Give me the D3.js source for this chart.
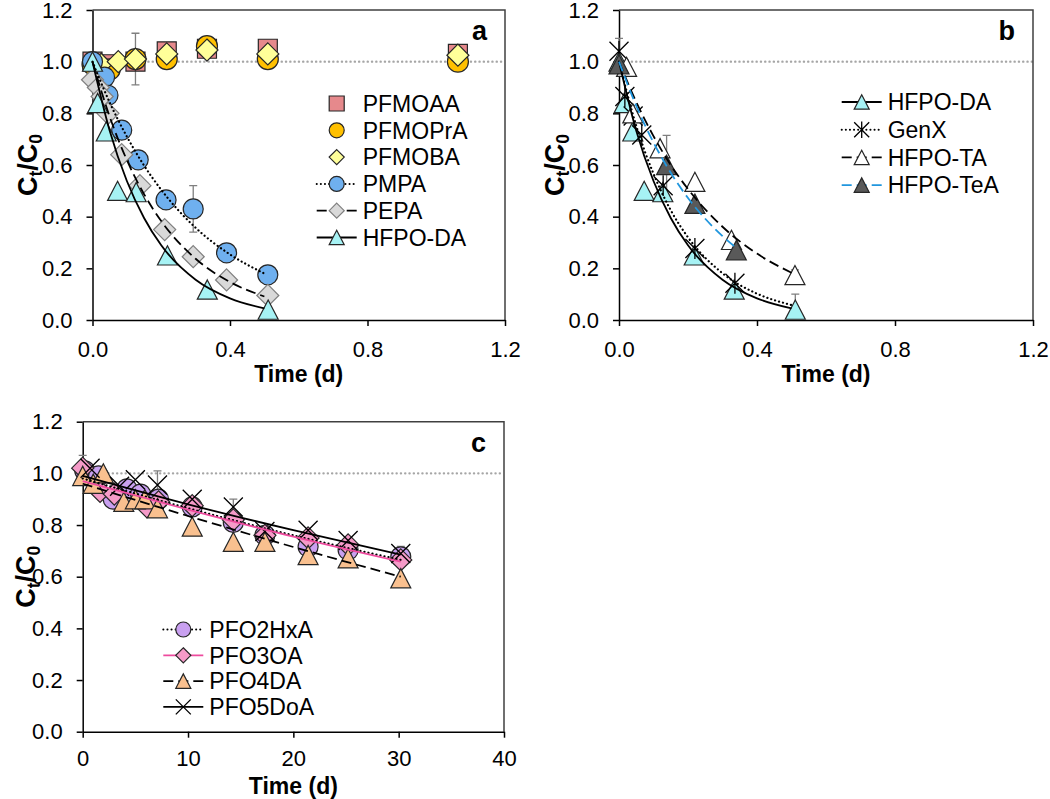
<!DOCTYPE html>
<html><head><meta charset="utf-8">
<script src="https://cdn.jsdelivr.net/npm/d3@7"></script>
<style>
body{margin:0;background:#fff}
svg{display:block}
text{font-family:"Liberation Sans",Arial,Helvetica,sans-serif;fill:#000}
</style>
</head><body>
<svg id="chart" width="1050" height="799"></svg>
<script>
// ---------------- DATA ----------------
// tick labels
const yTicks = [0, 0.2, 0.4, 0.6, 0.8, 1.0, 1.2];
const xTicksAB = [0, 0.4, 0.8, 1.2];
const xTicksC = [0, 10, 20, 30, 40];

// Panel a : [time (d), Ct/C0]
const a_PFMOAA  = [[0,1.0],[0.05,0.99],[0.125,1.0],[0.216,1.04],[0.333,1.05],[0.51,1.05],[1.063,1.03]];
const a_PFMOPrA = [[0,0.99],[0.05,0.97],[0.125,1.01],[0.216,1.01],[0.333,1.06],[0.51,1.01],[1.063,1.0]];
const a_PFMOBA  = [[0.025,0.99],[0.075,1.0],[0.125,1.01],[0.216,1.03],[0.333,1.045],[0.51,1.03],[1.063,1.025]];
const a_PMPA    = [[0,1.0],[0.035,0.94],[0.045,0.87],[0.085,0.735],[0.133,0.62],[0.214,0.465],[0.293,0.43],[0.39,0.26],[0.51,0.175]];
const a_PEPA    = [[0,0.93],[0.017,0.9],[0.028,0.865],[0.045,0.8],[0.085,0.64],[0.138,0.52],[0.21,0.35],[0.293,0.245],[0.39,0.155],[0.51,0.095]];
const HFPODA    = [[0,1.0],[0.015,0.84],[0.04,0.73],[0.073,0.5],[0.127,0.495],[0.218,0.25],[0.334,0.118],[0.511,0.04]];
// error bars : [time, value, +err, -err]
const a_errPFMOBA = [[0.125,1.01,0.1,0.1]];
const a_errPMPA   = [[0.293,0.43,0.09,0.09]];
// fitted curves panel a
const fitA_PMPA   = [[0,1],[0.05,0.842],[0.1,0.71],[0.15,0.598],[0.2,0.504],[0.3,0.357],[0.4,0.254],[0.5,0.18]];
const fitA_PEPA   = [[0,1],[0.05,0.787],[0.1,0.619],[0.15,0.487],[0.2,0.383],[0.3,0.237],[0.4,0.147],[0.5,0.091]];
const fitHFPODA   = [[0,1],[0.05,0.733],[0.1,0.538],[0.15,0.395],[0.2,0.289],[0.3,0.156],[0.4,0.084],[0.5,0.045]];

// Panel b
const b_GenX    = [[0,1.04],[0.017,0.865],[0.041,0.79],[0.066,0.716],[0.128,0.52],[0.22,0.277],[0.336,0.142]];
const b_HFPOTA  = [[0.022,0.98],[0.04,0.8],[0.119,0.665],[0.22,0.535],[0.326,0.31],[0.51,0.174]];
const b_HFPOTeA = [[0,0.99],[0.138,0.6],[0.22,0.45],[0.34,0.27]];
const b_errHFPODA  = [[0,1.0,0.09,0.02],[0.511,0.04,0.06,0.02]];
const b_errHFPOTeA = [[0.138,0.59,0.125,0.125]];
const b_errHFPOTA  = [[0.51,0.174,0.02,0.02]];
const fitB_GenX    = [[0,1],[0.05,0.752],[0.1,0.566],[0.15,0.425],[0.2,0.32],[0.3,0.181],[0.4,0.102],[0.5,0.058]];
const fitB_HFPOTA  = [[0,1],[0.05,0.844],[0.1,0.712],[0.15,0.6],[0.2,0.507],[0.3,0.361],[0.4,0.257],[0.5,0.183]];
const fitB_HFPOTeA = [[0,1],[0.05,0.829],[0.1,0.687],[0.15,0.57],[0.2,0.472],[0.25,0.392],[0.3,0.325],[0.34,0.279]];

// Panel c
const c_PFO2HxA = [[0.2,1.01],[1.5,0.99],[2.9,0.9],[4.2,0.94],[5.5,0.92],[7.2,0.9],[10.4,0.87],[14.3,0.81],[17.3,0.76],[21.4,0.716],[25.2,0.703],[30.2,0.677]];
const c_PFO3OA  = [[0,1.02],[1.65,0.93],[3,0.92],[6.1,0.87],[7.2,0.89],[10.4,0.875],[14.3,0.82],[17.3,0.76],[21.4,0.75],[25.2,0.723],[30.2,0.665]];
const c_PFO4DA  = [[0,0.99],[1,0.96],[1.96,1.0],[3.9,0.89],[5,0.9],[5.9,0.9],[7.1,0.865],[10.4,0.794],[14.3,0.735],[17.3,0.735],[21.4,0.684],[25.2,0.671],[30.2,0.594]];
const c_PFO5DoA = [[0.7,1.02],[3.5,0.95],[5,0.975],[7.1,0.955],[10.4,0.9],[14.3,0.87],[17.3,0.775],[21.4,0.78],[25.2,0.74],[30.2,0.69]];
const c_errPFO5DoA = [[0,1.0,0.07,0.03],[7.1,0.955,0.055,0.055],[14.3,0.86,0.04,0.04]];
const c_errPFO2HxA = [[30.2,0.677,0.04,0.02]];
const fitC_PFO2HxA = [[0,0.98],[10,0.865],[20,0.76],[30.2,0.665]];
const fitC_PFO3OA  = [[0,0.97],[10,0.86],[20,0.755],[30.2,0.658]];
const fitC_PFO4DA  = [[0,0.96],[10,0.835],[20,0.715],[30.2,0.6]];
const fitC_PFO5DoA = [[0,0.99],[10,0.88],[20,0.78],[30.2,0.685]];

// ---------------- STYLE ----------------
const FONT_TICK = 22, FONT_LEG = 23, FONT_TITLE = 23, FONT_YT = 27, FONT_LETTER = 27;
const OUT = "#262626";

const svg = d3.select("#chart");
svg.append("rect").attr("width",1050).attr("height",799).attr("fill","#fff");

function symPath(shape, s){
  const h = s/2;
  switch(shape){
    case "square": return `M${-h},${-h}H${h}V${h}H${-h}Z`;
    case "diamond": { const d = s*0.58; return `M0,${-d}L${d},0L0,${d}L${-d},0Z`; }
    case "triangle": { const hh = s*0.48; return `M0,${-hh}L${h},${hh}L${-h},${hh}Z`; }
    case "x": return `M${-h},${-h}L${h},${h}M${-h},${h}L${h},${-h}`;
    case "asterisk": return `M${-h},${-h}L${h},${h}M${-h},${h}L${h},${-h}M0,${-h*1.1}V${h*1.1}`;
  }
}
function drawMarker(g, shape, x, y, s, fill, stroke){
  if(shape==="circle"){
    g.append("circle").attr("cx",x).attr("cy",y).attr("r",s/2)
      .attr("fill",fill).attr("stroke",stroke).attr("stroke-width",1.2);
  } else {
    const open = (shape==="x"||shape==="asterisk");
    g.append("path").attr("d",symPath(shape,s)).attr("transform",`translate(${x},${y})`)
      .attr("fill",open?"none":fill).attr("stroke",stroke).attr("stroke-width",open?1.3:1.2)
      .attr("stroke-linejoin","miter");
  }
}

const DASH = {solid:null, dotted:"0.1,4", dashed:"10,5"};

function panel(cfg){
  const {x0,x1,y0,y1,xDomain,xTicks,xFmt,series,fits,errs,letter,legend,ytitleX,xtitleDy,xPad} = cfg;
  const x = d3.scaleLinear().domain(xDomain).range([x0,x1]);
  const y = d3.scaleLinear().domain([0,1.2]).range([y0,y1]);
  const g = svg.append("g");

  // reference line at 1.0
  g.append("line").attr("x1",x(xDomain[0])).attr("x2",x(xDomain[1])).attr("y1",y(1)).attr("y2",y(1))
    .attr("stroke","#a6a6a6").attr("stroke-width",2.4).attr("stroke-dasharray","0.1,4.2").attr("stroke-linecap","round");

  // box top/right
  g.append("path").attr("d",`M${x0},${y1}H${x1}V${y0}`).attr("fill","none")
    .attr("stroke","#404040").attr("stroke-width",1.5);

  // axes
  const ax = g.append("g").attr("transform",`translate(0,${y0})`)
    .call(d3.axisBottom(x).tickValues(xTicks).tickFormat(d3.format(xFmt)).tickSize(6).tickSizeOuter(0).tickPadding(xPad));
  const ay = g.append("g").attr("transform",`translate(${x0},0)`)
    .call(d3.axisLeft(y).tickValues(yTicks).tickFormat(d3.format(".1f")).tickSize(6).tickSizeOuter(0).tickPadding(14));
  [ax,ay].forEach(a=>{
    a.selectAll("path,line").attr("stroke","#000").attr("stroke-width",1.5);
    a.selectAll("text").attr("font-size",FONT_TICK).attr("font-family","Liberation Sans, Arial, sans-serif").attr("fill","#000");
  });

  // error bars
  const ge = g.append("g");
  errs.forEach(([t,v,up,dn])=>{
    const cx = x(t), yt = y(v+up), yb = y(v-dn);
    ge.append("path").attr("d",`M${cx},${yb}V${yt}M${cx-4},${yt}H${cx+4}M${cx-4},${yb}H${cx+4}`)
      .attr("stroke","#7f7f7f").attr("stroke-width",1.3).attr("fill","none");
  });

  // markers
  const gm = g.append("g");
  series.forEach(s=>{
    s.data.forEach(([t,v])=>drawMarker(gm, s.shape, x(t), y(v), s.size, s.fill, s.stroke));
  });

  // fitted curves (on top)
  const line = d3.line().x(d=>x(d[0])).y(d=>y(d[1])).curve(d3.curveMonotoneX);
  fits.forEach(f=>{
    g.append("path").datum(f.data).attr("d",line).attr("fill","none")
      .attr("stroke",f.color).attr("stroke-width",f.dash==="dotted"?2.2:1.8)
      .attr("stroke-dasharray",DASH[f.dash]).attr("stroke-linecap",f.dash==="dotted"?"round":"butt");
  });

  // panel letter
  g.append("text").attr("x",x1-18).attr("y",y1+30).attr("text-anchor","end")
    .attr("font-size",FONT_LETTER).attr("font-weight","bold").text(letter);

  // axis titles
  g.append("text").attr("x",(x0+x1)/2).attr("y",y0+xtitleDy).attr("text-anchor","middle")
    .attr("font-size",FONT_TITLE).attr("font-weight","bold").text("Time (d)");
  const yt = g.append("text").attr("transform",`translate(${ytitleX},${(y0+y1)/2}) rotate(-90)`)
    .attr("text-anchor","middle").attr("font-size",FONT_YT).attr("font-weight","bold");
  yt.append("tspan").text("C");
  yt.append("tspan").attr("font-size",FONT_YT*0.65).attr("dy",5).text("t");
  yt.append("tspan").attr("dy",-5).text("/C");
  yt.append("tspan").attr("font-size",FONT_YT*0.65).attr("dy",5).text("0");

  // legend
  const gl = g.append("g");
  legend.items.forEach((it,i)=>{
    const cy = legend.y + i*legend.step;
    if(it.dash){
      gl.append("line").attr("x1",legend.mx-20).attr("x2",legend.mx+20).attr("y1",cy).attr("y2",cy)
        .attr("stroke",it.lineColor).attr("stroke-width",it.dash==="dotted"?2:1.8).attr("stroke-dasharray",DASH[it.dash])
        .attr("stroke-linecap",it.dash==="dotted"?"round":"butt");
    }
    drawMarker(gl, it.shape, legend.mx, cy, it.lsize||15, it.fill, it.stroke);
    gl.append("text").attr("x",legend.mx+26).attr("y",cy).attr("dy","0.36em")
      .attr("font-size",FONT_LEG).text(it.name);
  });
}

// ---------------- PANEL A ----------------
const sA = [
  {name:"PFMOAA", data:a_PFMOAA, shape:"square", size:19, fill:"#e6898c", stroke:OUT},
  {name:"PFMOPrA", data:a_PFMOPrA, shape:"circle", size:21, fill:"#ffc000", stroke:OUT},
  {name:"PFMOBA", data:a_PFMOBA, shape:"diamond", size:19, fill:"#ffff99", stroke:OUT},
  {name:"PMPA", data:a_PMPA, shape:"circle", size:20, fill:"#6fb0ef", stroke:OUT, dash:"dotted", lineColor:"#000"},
  {name:"PEPA", data:a_PEPA, shape:"diamond", size:19, fill:"#d9d9d9", stroke:"#7f7f7f", dash:"dashed", lineColor:"#000"},
  {name:"HFPO-DA", data:HFPODA, shape:"triangle", size:20, fill:"#a6f2f4", stroke:OUT, dash:"solid", lineColor:"#000"}
];
panel({x0:92.5,x1:505,y0:320,y1:10,xDomain:[0,1.2],xTicks:xTicksAB,xFmt:".1f",
  series:sA,
  errs:[...a_errPFMOBA,...a_errPMPA],
  fits:[{data:fitA_PMPA,color:"#000",dash:"dotted"},{data:fitA_PEPA,color:"#000",dash:"dashed"},{data:fitHFPODA,color:"#000",dash:"solid"}],
  letter:"a", ytitleX:37, xtitleDy:62, xPad:15,
  legend:{y:103.5,step:26.8,mx:336.7,items:sA.map(s=>({...s,lsize:s.shape==="diamond"?13:15}))}
});

// ---------------- PANEL B ----------------
const sB = [
  {name:"HFPO-DA", data:HFPODA, shape:"triangle", size:20, fill:"#a6f2f4", stroke:OUT, dash:"solid", lineColor:"#000"},
  {name:"GenX", data:b_GenX, shape:"asterisk", size:19, fill:"none", stroke:"#000", dash:"dotted", lineColor:"#000"},
  {name:"HFPO-TA", data:b_HFPOTA, shape:"triangle", size:20, fill:"#ffffff", stroke:OUT, dash:"dashed", lineColor:"#000"},
  {name:"HFPO-TeA", data:b_HFPOTeA, shape:"triangle", size:20, fill:"#595959", stroke:OUT, dash:"dashed", lineColor:"#2096de"}
];
panel({x0:619,x1:1033,y0:320,y1:10,xDomain:[0,1.2],xTicks:xTicksAB,xFmt:".1f",
  series:sB,
  errs:[...b_errHFPODA,...b_errHFPOTeA,...b_errHFPOTA],
  fits:[{data:fitHFPODA,color:"#000",dash:"solid"},{data:fitB_GenX,color:"#000",dash:"dotted"},
        {data:fitB_HFPOTA,color:"#000",dash:"dashed"},{data:fitB_HFPOTeA,color:"#2096de",dash:"dashed"}],
  letter:"b", ytitleX:563.5, xtitleDy:62, xPad:15,
  legend:{y:102,step:27.7,mx:861.7,items:sB.map(s=>({...s,lsize:15}))}
});

// ---------------- PANEL C ----------------
const sC = [
  {name:"PFO2HxA", data:c_PFO2HxA, shape:"circle", size:20, fill:"#c9a0f0", stroke:OUT, dash:"dotted", lineColor:"#000"},
  {name:"PFO3OA", data:c_PFO3OA, shape:"diamond", size:19, fill:"#f59ac8", stroke:OUT, dash:"solid", lineColor:"#ee4b9e"},
  {name:"PFO4DA", data:c_PFO4DA, shape:"triangle", size:20, fill:"#f9c08f", stroke:OUT, dash:"dashed", lineColor:"#000"},
  {name:"PFO5DoA", data:c_PFO5DoA, shape:"x", size:19, fill:"none", stroke:"#000", dash:"solid", lineColor:"#000"}
];
panel({x0:82.7,x1:504,y0:731.7,y1:421.7,xDomain:[0,40],xTicks:xTicksC,xFmt:"d",
  series:sC,
  errs:[...c_errPFO5DoA,...c_errPFO2HxA],
  fits:[{data:fitC_PFO2HxA,color:"#000",dash:"dotted"},{data:fitC_PFO4DA,color:"#000",dash:"dashed"},
        {data:fitC_PFO5DoA,color:"#000",dash:"solid"},{data:fitC_PFO3OA,color:"#ee4b9e",dash:"solid"}],
  letter:"c", ytitleX:35, xtitleDy:62, xPad:13,
  legend:{y:629.5,step:25.8,mx:183.3,items:sC.map(s=>({...s,lsize:s.shape==="diamond"?13:15}))}
});
</script>
</body></html>
